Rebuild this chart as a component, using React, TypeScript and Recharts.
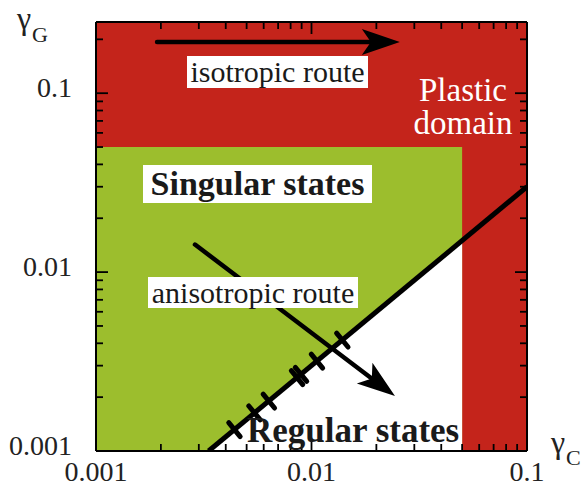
import { ComposedChart, Area, Line, Scatter, XAxis, YAxis } from "recharts";

// axis ticks (log decades plus the minor 2..9 steps)
const xTicks = [
  0.001, 0.002, 0.003, 0.004, 0.005, 0.006, 0.007, 0.008, 0.009,
  0.01, 0.02, 0.03, 0.04, 0.05, 0.06, 0.07, 0.08, 0.09, 0.1,
];
const yTicks = [
  0.001, 0.002, 0.003, 0.004, 0.005, 0.006, 0.007, 0.008, 0.009,
  0.01, 0.02, 0.03, 0.04, 0.05, 0.06, 0.07, 0.08, 0.09, 0.1, 0.2,
];
const majorTicks = [0.001, 0.01, 0.1];

// regions
const plasticRegion = [
  { x: 0.001, y: 0.25 },
  { x: 0.1, y: 0.25 },
];
const singularRegion = [
  { x: 0.001, y: 0.05 },
  { x: 0.05, y: 0.05 },
];
const regularRegion = [
  { x: 0.00333, y: 0.001 },
  { x: 0.05, y: 0.015 },
];

// boundary line and the marks along it
const boundary = [
  { x: 0.00333, y: 0.001 },
  { x: 0.1, y: 0.03 },
];
const boundaryMarks = [
  { x: 0.00439, y: 0.001317 },
  { x: 0.00544, y: 0.001632 },
  { x: 0.00634, y: 0.001902 },
  { x: 0.00857, y: 0.002571 },
  { x: 0.00894, y: 0.002682 },
  { x: 0.0106, y: 0.00318 },
  { x: 0.0139, y: 0.00417 },
];

// routes
const isoRoute = [
  { x: 0.00192, y: 0.193 },
  { x: 0.0197, y: 0.193 },
];
const isoTip = [{ x: 0.0257, y: 0.193 }];
const anisoRoute = [
  { x: 0.00288, y: 0.01426 },
  { x: 0.01992, y: 0.002436 },
];
const anisoTip = [{ x: 0.0244, y: 0.00203 }];

const RED = "#c4241b";
const GREEN = "#9cbe2d";
const SERIF = "'Liberation Serif', 'Times New Roman', serif";

const BottomTick = (props: any) => {
  const { x, y, payload } = props;
  const major = majorTicks.includes(payload.value);
  return (
    <g>
      <line x1={x} x2={x} y1={y} y2={y - (major ? 12 : 7)} stroke="#000" strokeWidth={1.8} />
      {major && (
        <text x={x} y={y + 30} textAnchor="middle" fontSize={28} fontFamily={SERIF} fill="#222">
          {payload.value}
        </text>
      )}
    </g>
  );
};

const TopTick = (props: any) => {
  const { x, y, payload } = props;
  const major = majorTicks.includes(payload.value);
  return <line x1={x} x2={x} y1={y} y2={y + (major ? 12 : 7)} stroke="#000" strokeWidth={1.8} />;
};

const LeftTick = (props: any) => {
  const { x, y, payload } = props;
  const major = majorTicks.includes(payload.value);
  return (
    <g>
      <line x1={x} x2={x + (major ? 12 : 7)} y1={y} y2={y} stroke="#000" strokeWidth={1.8} />
      {major && (
        <text x={x - 24} y={y + 4} textAnchor="end" fontSize={28} fontFamily={SERIF} fill="#222">
          {payload.value}
        </text>
      )}
    </g>
  );
};

const RightTick = (props: any) => {
  const { x, y, payload } = props;
  const major = majorTicks.includes(payload.value);
  return <line x1={x} x2={x - (major ? 12 : 7)} y1={y} y2={y} stroke="#000" strokeWidth={1.8} />;
};

// short cross mark perpendicular to the boundary line
const Mark = (props: any) => {
  const { cx, cy } = props;
  const nx = 0.634 * 9;
  const ny = 0.773 * 9;
  return (
    <line x1={cx - nx} y1={cy - ny} x2={cx + nx} y2={cy + ny} stroke="#000" strokeWidth={5} strokeLinecap="round" />
  );
};

const arrowHead = (angle: number) => (props: any) => {
  const { cx, cy } = props;
  return (
    <polygon
      points="0,0 -38,-13 -29,0 -38,13"
      transform={`translate(${cx},${cy}) rotate(${angle})`}
      fill="#000"
    />
  );
};

const boxStyle: React.CSSProperties = {
  position: "absolute",
  background: "#fff",
  display: "flex",
  alignItems: "center",
  justifyContent: "center",
  fontFamily: SERIF,
  color: "#1a1a1a",
  whiteSpace: "nowrap",
};

export default function App() {
  const axisLine = { stroke: "#000", strokeWidth: 2 };
  return (
    <div style={{ position: "absolute", left: 0, top: 0, width: 585, height: 489, background: "#fff" }}>
      <ComposedChart width={585} height={489} margin={{ top: 14, right: 50, bottom: 0, left: 0 }}>
        <Area
          data={plasticRegion}
          xAxisId="b"
          yAxisId="l"
          dataKey="y"
          baseValue={0.001}
          fill={RED}
          fillOpacity={1}
          stroke="none"
          isAnimationActive={false}
        />
        <Area
          data={singularRegion}
          xAxisId="b"
          yAxisId="l"
          dataKey="y"
          baseValue={0.001}
          fill={GREEN}
          fillOpacity={1}
          stroke="none"
          isAnimationActive={false}
        />
        <Area
          data={regularRegion}
          xAxisId="b"
          yAxisId="l"
          dataKey="y"
          baseValue={0.001}
          fill="#fff"
          fillOpacity={1}
          stroke="none"
          isAnimationActive={false}
        />
        <Line
          data={boundary}
          xAxisId="b"
          yAxisId="l"
          dataKey="y"
          stroke="#000"
          strokeWidth={5}
          dot={false}
          isAnimationActive={false}
        />
        <Scatter data={boundaryMarks} xAxisId="b" yAxisId="l" dataKey="y" shape={Mark} isAnimationActive={false} />
        <Line
          data={isoRoute}
          xAxisId="b"
          yAxisId="l"
          dataKey="y"
          stroke="#000"
          strokeWidth={4.5}
          strokeLinecap="round"
          dot={false}
          isAnimationActive={false}
        />
        <Scatter data={isoTip} xAxisId="b" yAxisId="l" dataKey="y" shape={arrowHead(0)} isAnimationActive={false} />
        <Line
          data={anisoRoute}
          xAxisId="b"
          yAxisId="l"
          dataKey="y"
          stroke="#000"
          strokeWidth={4.5}
          strokeLinecap="round"
          dot={false}
          isAnimationActive={false}
        />
        <Scatter data={anisoTip} xAxisId="b" yAxisId="l" dataKey="y" shape={arrowHead(37)} isAnimationActive={false} />

        <XAxis
          xAxisId="b"
          dataKey="x"
          type="number"
          scale="log"
          domain={[0.001, 0.1]}
          allowDataOverflow
          ticks={xTicks}
          interval={0}
          tick={BottomTick}
          tickLine={false}
          tickSize={0}
          tickMargin={0}
          axisLine={axisLine}
          height={38}
        />
        <XAxis
          xAxisId="t"
          orientation="top"
          dataKey="x"
          type="number"
          scale="log"
          domain={[0.001, 0.1]}
          allowDataOverflow
          ticks={xTicks}
          interval={0}
          tick={TopTick}
          tickLine={false}
          tickSize={0}
          tickMargin={0}
          axisLine={axisLine}
          height={8}
        />
        <YAxis
          yAxisId="l"
          type="number"
          scale="log"
          domain={[0.001, 0.25]}
          allowDataOverflow
          ticks={yTicks}
          interval={0}
          tick={LeftTick}
          tickLine={false}
          tickSize={0}
          tickMargin={0}
          axisLine={axisLine}
          width={96}
        />
        <YAxis
          yAxisId="r"
          orientation="right"
          type="number"
          scale="log"
          domain={[0.001, 0.25]}
          allowDataOverflow
          ticks={yTicks}
          interval={0}
          tick={RightTick}
          tickLine={false}
          tickSize={0}
          tickMargin={0}
          axisLine={axisLine}
          width={8}
        />
      </ComposedChart>

      {/* axis titles */}
      <div style={{ position: "absolute", left: 17, top: 0, fontFamily: SERIF, fontSize: 32, color: "#222" }}>γ</div>
      <div style={{ position: "absolute", left: 32, top: 22, fontFamily: SERIF, fontSize: 22, color: "#222" }}>G</div>
      <div style={{ position: "absolute", left: 551, top: 424, fontFamily: SERIF, fontSize: 32, color: "#222" }}>γ</div>
      <div style={{ position: "absolute", left: 566, top: 445, fontFamily: SERIF, fontSize: 22, color: "#222" }}>C</div>

      {/* region and route labels */}
      <div style={{ ...boxStyle, left: 187, top: 56, width: 181, height: 32, fontSize: 30 }}>isotropic route</div>
      <div style={{ ...boxStyle, left: 143, top: 165, width: 229, height: 38, fontSize: 34, fontWeight: "bold" }}>
        Singular states
      </div>
      <div style={{ ...boxStyle, left: 148, top: 277, width: 210, height: 31, fontSize: 30 }}>anisotropic route</div>
      <div
        style={{
          position: "absolute",
          left: 400,
          top: 74,
          width: 126,
          textAlign: "center",
          fontFamily: SERIF,
          fontSize: 33,
          lineHeight: "33px",
          color: "#fff",
        }}
      >
        Plastic
        <br />
        domain
      </div>
      <div
        style={{
          position: "absolute",
          left: 247,
          top: 411,
          fontFamily: SERIF,
          fontSize: 35,
          fontWeight: "bold",
          color: "#1a1a1a",
          whiteSpace: "nowrap",
        }}
      >
        Regular states
      </div>
    </div>
  );
}
